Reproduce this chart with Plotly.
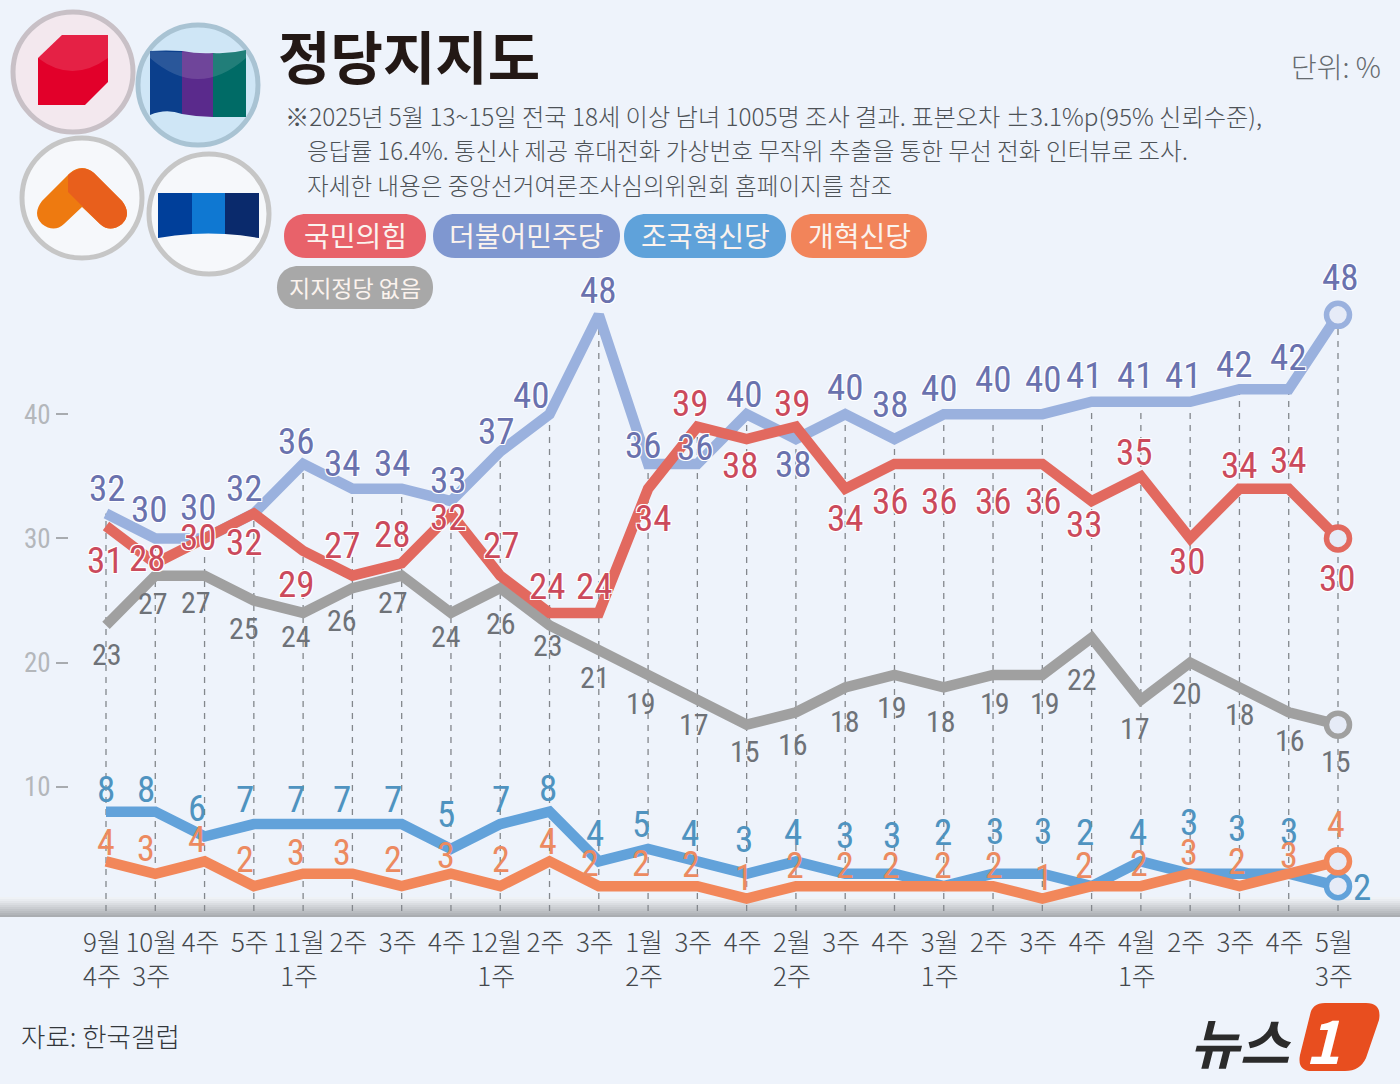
import re
import plotly.graph_objects as go

# ---------- Data ----------
week_labels = [
    "9월<br>4주", "10월<br>3주", "4주", "5주", "11월<br>1주", "2주", "3주", "4주",
    "12월<br>1주", "2주", "3주", "1월<br>2주", "3주", "4주", "2월<br>2주", "3주",
    "4주", "3월<br>1주", "2주", "3주", "4주", "4월<br>1주", "2주", "3주", "4주",
    "5월<br>3주",
]
minju = [32, 30, 30, 32, 36, 34, 34, 33, 37, 40, 48, 36, 36, 40, 38, 40, 38, 40, 40, 40, 41, 41, 41, 42, 42, 48]
ppp = [31, 28, 30, 32, 29, 27, 28, 32, 27, 24, 24, 34, 39, 38, 39, 34, 36, 36, 36, 36, 33, 35, 30, 34, 34, 30]
no_party = [23, 27, 27, 25, 24, 26, 27, 24, 26, 23, 21, 19, 17, 15, 16, 18, 19, 18, 19, 19, 22, 17, 20, 18, 16, 15]
rebuild = [8, 8, 6, 7, 7, 7, 7, 5, 7, 8, 4, 5, 4, 3, 4, 3, 3, 2, 3, 3, 2, 4, 3, 3, 3, 2]
reform = [4, 3, 4, 2, 3, 3, 2, 3, 2, 4, 2, 2, 2, 1, 2, 2, 2, 2, 2, 1, 2, 2, 3, 2, 3, 4]
y_ticks = [10, 20, 30, 40]

# ---------- Label placement, pixels from each point ----------
minju_dx = [1, -6, -6, -9, -7, -10, -9, -2, -4, -18, 0, -5, -2, -2, -2, 0, -4, -4, 0, 1, -7, -5, -7, -5, 0, 2]
minju_dy = [-25, -29, -31, -25, -22, -25, -25, -21, -20, -19, -24, -18, -16, -20, 25, -27, -35, -26, -35, -35, -26, -26, -26, -25, -32, -37]
ppp_dx = [-1, -8, -6, -9, -7, -10, -9, -2, 1, -2, -4, 5, -7, -6, -3, 0, -4, -4, 0, 1, -7, -6, -3, 0, 0, -1]
ppp_dy = [35, -5, -1, 29, 34, -30, -29, 4, -30, -26, -26, 30, -23, 26, -23, 30, 38, 38, 38, 38, 23, -24, 23, -23, -28, 40]
none_dx = [1, -2, -9, -10, -7, -10, -9, -5, 1, -2, -4, -7, -3, -2, -3, 0, -2, -3, 2, 3, -10, -6, -3, 1, 1, -2]
none_dy = [29, 28, 27, 28, 24, 32, 27, 24, 35, 20, 27, 28, 25, 27, 32, 34, 32, 34, 28, 28, 42, 29, 31, 27, 28, 37]
rebuild_dx = [0, -9, -8, -9, -7, -10, -9, -5, 1, -2, -4, -7, -7, -3, -3, 0, -2, -1, 2, 1, -7, -3, -1, -2, 0, 24]
rebuild_dy = [-22, -22, -28, -25, -25, -25, -25, -34, -25, -23, -28, -24, -28, -34, -29, -38, -38, -54, -42, -42, -54, -29, -51, -45, -42, 1]
reform_dx = [0, -9, -8, -9, -7, -10, -9, -5, 1, -2, -9, -7, -6, -3, -1, 0, -3, -1, 1, 2, -8, -2, -1, -2, 0, -2]
reform_dy = [-18, -25, -21, -26, -21, -21, -26, -18, -26, -19, -22, -22, -21, -21, -20, -20, -20, -20, -20, -21, -20, -22, -21, -24, -18, -36]

BG = "#eef3fb"
KR = "Noto Sans CJK KR"
NUM = "Roboto Condensed, Noto Sans ExtraCondensed, Noto Sans Condensed, Open Sans Condensed, " + KR
W, H = 1400, 1084
LEFT, BOTTOM = 69, 917      # plot area corner, page pixels
ZERO_PX, PX_PER_UNIT = 911, 12.42
FIRST_X, STEP_X = 106, 49.28

x = list(range(len(week_labels)))


def px(v):
    return (v - LEFT) / (W - LEFT)


def py(v):
    return (BOTTOM - v) / BOTTOM


def path(s):
    # page-pixel path -> paper coordinates
    out, is_x = [], True
    for tok in s.split():
        if re.fullmatch(r"[A-Z]", tok):
            out.append(tok)
            is_x = True
        else:
            val = px(float(tok)) if is_x else py(float(tok))
            out.append(f"{val:.5f}")
            is_x = not is_x
    return " ".join(out)


def add_path(fig, s, color):
    fig.add_shape(type="path", path=path(s), xref="paper", yref="paper",
                  fillcolor=color, line_width=0, layer="above")


def add_badge(fig, cx, cy, fill, ring):
    fig.add_shape(type="circle", xref="paper", yref="paper",
                  x0=px(cx - 60), x1=px(cx + 60), y0=py(cy + 60), y1=py(cy - 60),
                  fillcolor=fill, line=dict(color=ring, width=5), layer="above")


def add_pill(fig, x0, x1, y0, y1, color, label, size=28):
    r = (y1 - y0) / 2
    add_path(fig, f"M {x0 + r} {y0} L {x1 - r} {y0} C {x1 - r * .4} {y0} {x1} {y0 + r * .4} {x1} {y0 + r} "
                  f"C {x1} {y1 - r * .4} {x1 - r * .4} {y1} {x1 - r} {y1} L {x0 + r} {y1} "
                  f"C {x0 + r * .4} {y1} {x0} {y1 - r * .4} {x0} {y0 + r} "
                  f"C {x0} {y0 + r * .4} {x0 + r * .4} {y0} {x0 + r} {y0} Z", color)
    add_text(fig, (x0 + x1) / 2, (y0 + y1) / 2 - 1, label, size, "#fbf3ee", anchor="center")


def add_text(fig, tx, ty, s, size, color, anchor="left", family=KR, **font):
    fig.add_annotation(x=px(tx), y=py(ty), xref="paper", yref="paper", text=s, showarrow=False,
                       xanchor=anchor, yanchor="middle", borderpad=0,
                       font=dict(family=family, size=size, color=color, **font))


fig = go.Figure()

# dashed guides up to the highest series of each week
guide_x, guide_y = [], []
for i in x:
    guide_x += [i, i, None]
    guide_y += [0, max(minju[i], ppp[i], no_party[i], rebuild[i], reform[i]), None]

# baseline band
band = ["#eff2f6", "#e9ecf0", "#e2e5e9", "#dadde1", "#d2d5d9", "#cacdd1", "#c2c5c9", "#babdc1", "#b2b5b9", "#aaadb1"]
for n, c in enumerate(band):
    fig.add_shape(type="rect", xref="paper", yref="paper", x0=px(0), x1=px(W),
                  y0=py(897 + (n + 1) * 2), y1=py(897 + n * 2),
                  fillcolor=c, line_width=0, layer="below")

fig.add_trace(go.Scatter(x=guide_x, y=guide_y, mode="lines", hoverinfo="skip",
                         line=dict(color="#83878c", width=1.3, dash="6px,6px")))

series = [
    (no_party, "#a0a0a0", "#6e7278", 30, none_dx, none_dy, False),
    (minju, "#9ab1de", "#6a72ae", 37, minju_dx, minju_dy, True),
    (ppp, "#e2695f", "#cb4a5c", 37, ppp_dx, ppp_dy, True),
    (rebuild, "#62a2da", "#4f93c0", 37, rebuild_dx, rebuild_dy, False),
    (reform, "#f2875a", "#ec8a60", 36, reform_dx, reform_dy, False),
]
HALO = "-1px -1px 0 #fff, 1px -1px 0 #fff, -1px 1px 0 #fff, 1px 1px 0 #fff"

for vals, line_c, text_c, size, dx, dy, halo in series:
    fig.add_trace(go.Scatter(x=x, y=vals, mode="lines", line=dict(color=line_c, width=10.5), hoverinfo="skip"))
for vals, line_c, text_c, size, dx, dy, halo in series:
    fig.add_trace(go.Scatter(x=x[-1:], y=vals[-1:], mode="markers", hoverinfo="skip",
                             marker=dict(size=23, color="#e6ebf7", line=dict(color=line_c, width=5.5))))
for vals, line_c, text_c, size, dx, dy, halo in series:
    for i, v in enumerate(vals):
        fig.add_annotation(x=i, y=v, text=str(v), showarrow=False, xshift=dx[i], yshift=-dy[i],
                           font=dict(family=NUM, size=size, color=text_c, shadow=HALO if halo else "none"))

# ---------- Party badges ----------
add_badge(fig, 73, 72, "#f3e8ee", "#c8c0c6")
add_path(fig, "M 38 58 L 62 35 L 108 35 L 108 82 L 85 105 L 38 105 Z", "#e2002a")
add_path(fig, "M 38 58 L 62 35 L 108 35 L 108 58 Q 72 84 38 58 Z", "rgba(255,255,255,0.13)")

add_badge(fig, 198, 85, "#cfe6f6", "#a9c3d3")
add_path(fig, "M 150 51 Q 166 50 182 51 L 182 114 Q 166 108 150 115 Z", "#0b3f8c")
add_path(fig, "M 182 51 Q 198 54 213 53 L 213 117 Q 198 117 182 114 Z", "#5a2a8c")
add_path(fig, "M 213 53 Q 230 54 246 50 L 246 117 L 213 117 Z", "#006b66")
add_path(fig, "M 150 51 Q 198 54 246 50 L 246 58 Q 198 100 150 58 Z", "rgba(255,255,255,0.13)")

add_badge(fig, 82, 198, "#f6f8fb", "#c6c6c6")
add_path(fig, "M 70 173 Q 82 163 94 173 L 122 201 Q 132 214 122 224 Q 110 233 100 224 L 82 207 L 64 224 Q 54 233 42 224 Q 32 214 42 201 Z", "#ee7a10")
add_path(fig, "M 68 175 Q 82 163 94 173 L 122 201 Q 132 214 122 224 Q 110 233 100 224 L 68 192 Z", "#e85f1c")

add_badge(fig, 209, 214, "#f6f8fb", "#c6c6c6")
add_path(fig, "M 158 193 L 192 193 L 192 234 Q 175 235 158 238 Z", "#003f9a")
add_path(fig, "M 192 193 L 225 193 L 225 234 Q 208 233 192 234 Z", "#0f78d2")
add_path(fig, "M 225 193 L 259 193 L 259 238 Q 242 235 225 234 Z", "#0a2a6c")

# ---------- Header, legend, footer ----------
add_text(fig, 277, 54, "정당지지도", 57, "#231815", weight=700)
add_text(fig, 1382, 66, "단위: %", 28, "#666b70", anchor="right", weight=300)
add_text(fig, 284, 115, "※2025년 5월 13~15일 전국 18세 이상 남녀 1005명 조사 결과. 표본오차 ±3.1%p(95% 신뢰수준),", 24.25, "#4d5257", weight=300)
add_text(fig, 306, 150, "응답률 16.4%. 통신사 제공 휴대전화 가상번호 무작위 추출을 통한 무선 전화 인터뷰로 조사.", 23.7, "#4d5257", weight=300)
add_text(fig, 306, 185, "자세한 내용은 중앙선거여론조사심의위원회 홈페이지를 참조", 23.6, "#4d5257", weight=300)

add_pill(fig, 284, 426, 214, 258, "#e8626a", "국민의힘")
add_pill(fig, 433, 620, 214, 258, "#7f97d0", "더불어민주당")
add_pill(fig, 624, 786, 214, 258, "#5fa2da", "조국혁신당")
add_pill(fig, 791, 927, 214, 258, "#f2845a", "개혁신당")
add_pill(fig, 277, 433, 266, 309, "#a8a8a8", "지지정당 없음", size=23)

add_text(fig, 20, 1035, "자료: 한국갤럽", 26.5, "#33373b", weight=300)
add_text(fig, 1241, 1040, "뉴스", 54, "#2b2b2b", anchor="center", weight=700, style="italic")
add_path(fig, "M 1325 1003 L 1366 1003 Q 1382 1003 1379 1020 L 1366 1058 Q 1360 1071 1345 1071 L 1312 1071 Q 1297 1071 1300 1055 L 1310 1015 Q 1312 1003 1325 1003 Z", "#e84e1f")
add_text(fig, 1322, 1037, "1", 60, "#ffffff", anchor="center", weight=700, style="italic")

fig.update_layout(
    width=W, height=H, margin=dict(l=LEFT, r=0, t=0, b=H - BOTTOM, pad=0),
    paper_bgcolor=BG, plot_bgcolor=BG, showlegend=False,
    xaxis=dict(
        range=[(LEFT - FIRST_X) / STEP_X, (W - FIRST_X) / STEP_X],
        tickvals=x, ticktext=week_labels, ticks="outside", ticklen=3, tickcolor=BG,
        ticklabelshift=-4, tickfont=dict(family=KR, size=26, color="#44484c", weight=300),
        showgrid=False, zeroline=False, showline=False,
    ),
    yaxis=dict(
        range=[(ZERO_PX - BOTTOM) / PX_PER_UNIT, ZERO_PX / PX_PER_UNIT],
        tickvals=y_ticks, ticks="outside", ticklen=12, tickwidth=1.5, tickcolor="#a8abaf",
        tickfont=dict(family=NUM, size=27, color="#b4b7bb"),
        showgrid=False, zeroline=False, showline=False,
    ),
)

fig.write_html("out.html", config=dict(displayModeBar=False),
               post_script="document.body.style.margin='0';")
